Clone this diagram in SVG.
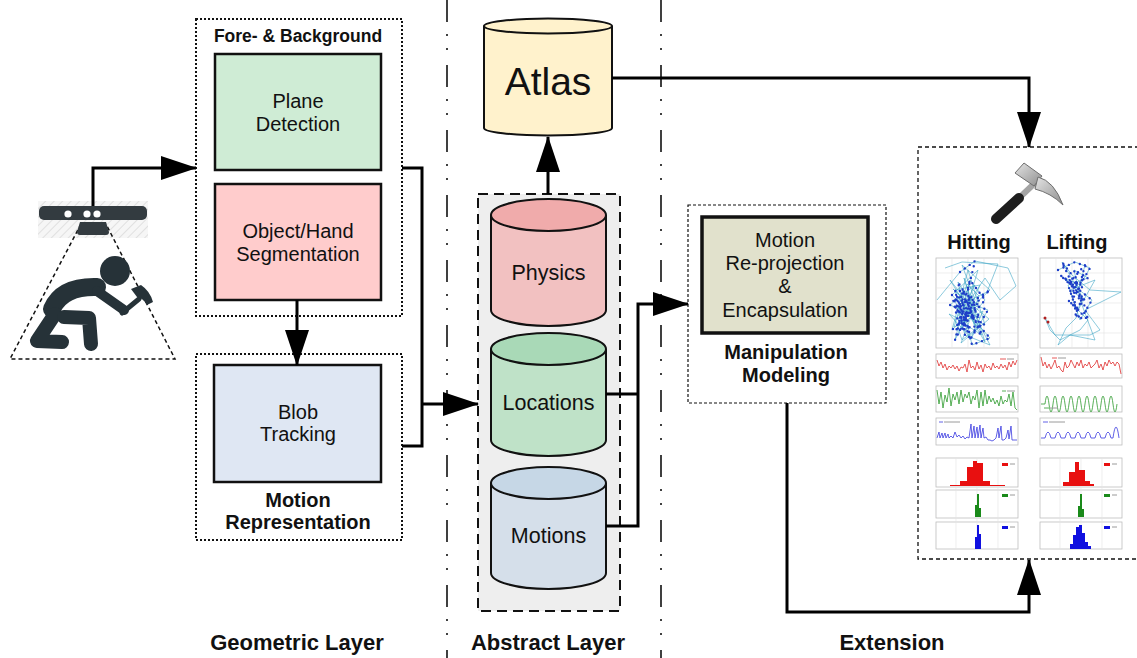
<svg xmlns="http://www.w3.org/2000/svg" width="1137" height="658" viewBox="0 0 1137 658">
  <style>
    text { font-family: "Liberation Sans", Arial, sans-serif; fill: #111; text-anchor: middle; }
    .lbl { font-size: 20px; }
    .bold { font-weight: bold; }
    .box { stroke: #111; stroke-width: 2.5; }
    .group-dotted { fill: none; stroke: #111; stroke-width: 2; stroke-dasharray: 2 2; }
    .cyl { stroke: #111; stroke-width: 2; }
    .conn { fill: none; stroke: #000; stroke-width: 3; }
    .layer-sep { stroke: #111; stroke-width: 1.6; stroke-dasharray: 22 12 2 12 2 15; }
    .frame { fill: #fff; stroke: #bdbdbd; stroke-width: 0.8; }
    .grid { stroke: #e2e2e2; stroke-width: 0.6; }
    .trail { fill: none; stroke: #3fa6c6; stroke-width: 0.6; }
    .pts { fill: none; stroke: #1e3ec8; stroke-width: 2.4; stroke-linecap: round; stroke-dasharray: 0 6; }
    .person { fill: none; stroke: #263238; stroke-linecap: round; stroke-linejoin: round; }
  </style>
  <defs>
    <marker id="ah" markerUnits="userSpaceOnUse" markerWidth="36" markerHeight="24" refX="35" refY="12" orient="auto">
      <path d="M0,0 L36,12 L0,24 Z" fill="#000"/>
    </marker>
    <pattern id="hatch" width="6" height="6" patternUnits="userSpaceOnUse" patternTransform="rotate(45)">
      <rect width="6" height="6" fill="#f6f6f6"/>
      <line x1="0" y1="0" x2="0" y2="6" stroke="#e0e0e0" stroke-width="2"/>
    </pattern>
    <linearGradient id="steel" x1="0" y1="0" x2="1" y2="1">
      <stop offset="0" stop-color="#e4e4e4"/>
      <stop offset="1" stop-color="#8e8e8e"/>
    </linearGradient>
  </defs>

  <rect width="1137" height="658" fill="#fff"/>

  <!-- layer separators -->
  <line class="layer-sep" x1="447" y1="0" x2="447" y2="658"/>
  <line class="layer-sep" x1="661" y1="0" x2="661" y2="658"/>

  <!-- sensor and worker -->
  <g id="sensor">
    <rect x="38" y="201" width="110" height="37" fill="url(#hatch)"/>
    <polyline points="81,224 10,359 175,359 106,224" fill="none" stroke="#111" stroke-width="1.5" stroke-dasharray="4 3"/>
    <path d="M80,222 H106 L109,232 Q109,235 106,235 H80 Q77,235 77,232 Z" fill="#333b40"/>
    <rect x="39" y="206" width="108" height="14" rx="5" fill="#333b40"/>
    <circle cx="68" cy="214" r="3.6" fill="#fff"/>
    <circle cx="87" cy="214" r="3.6" fill="#fff"/>
    <circle cx="97" cy="214" r="3.6" fill="#fff"/>
  </g>
  <g id="worker">
    <circle cx="115" cy="271" r="15" fill="#263238"/>
    <path class="person" d="M52,309 Q62,286 97,287" stroke-width="18"/>
    <path class="person" d="M97,291 L124,310" stroke-width="10"/>
    <path class="person" d="M55,314 L37,341 L62,342" stroke-width="14"/>
    <path class="person" d="M64,317 L89,318 L91,344" stroke-width="14"/>
    <path d="M122,313 L139,299" stroke="#263238" stroke-width="5" stroke-linecap="round"/>
    <path d="M131,289 L141,285 Q150,291 153,302 L147,305 Q143,298 137,297 Z" fill="#263238"/>
  </g>

  <!-- geometric layer -->
  <g id="fore-background">
    <rect class="group-dotted" x="196" y="19" width="206" height="297"/>
    <text class="bold" x="298" y="42" font-size="17.5">Fore- &amp; Background</text>
  </g>
  <g id="plane-detection">
    <rect class="box" x="215" y="54" width="166" height="116" fill="#cfecd5"/>
    <text class="lbl" x="298" y="108">Plane</text>
    <text class="lbl" x="298" y="131">Detection</text>
  </g>
  <g id="segmentation">
    <rect class="box" x="215" y="184" width="166" height="116" fill="#ffcccc"/>
    <text class="lbl" x="298" y="238">Object/Hand</text>
    <text class="lbl" x="298" y="261">Segmentation</text>
  </g>
  <g id="motion-representation">
    <rect class="group-dotted" x="196" y="354" width="206" height="186"/>
    <text class="bold" x="298" y="507" font-size="20">Motion</text>
    <text class="bold" x="298" y="529" font-size="20">Representation</text>
  </g>
  <g id="blob-tracking">
    <rect class="box" x="214" y="365" width="167" height="117" fill="#dfe7f3"/>
    <text class="lbl" x="298" y="419">Blob</text>
    <text class="lbl" x="298" y="441">Tracking</text>
  </g>

  <!-- abstract layer -->
  <g id="atlas">
    <path class="cyl" d="M484,26 V128 A64,7.5 0 0 0 612,128 V26" fill="#fff2cc" stroke-width="3"/>
    <ellipse class="cyl" cx="548" cy="26" rx="64" ry="7.5" fill="#fff2cc" stroke-width="3"/>
    <text x="548" y="95" font-size="39">Atlas</text>
  </g>
  <g id="abstract-store">
    <rect x="478" y="194" width="142" height="417" fill="#eeeeee" stroke="#111" stroke-width="2" stroke-dasharray="10 6"/>
  </g>
  <g id="physics">
    <path class="cyl" d="M491,215 V310 A57.5,16 0 0 0 606,310 V215" fill="#f2c1c1"/>
    <ellipse class="cyl" cx="548.5" cy="215" rx="57.5" ry="16" fill="#f0abab"/>
    <text x="548.5" y="280" font-size="21.5">Physics</text>
  </g>
  <g id="locations">
    <path class="cyl" d="M491,349 V440 A57.5,16 0 0 0 606,440 V349" fill="#bfe2c8"/>
    <ellipse class="cyl" cx="548.5" cy="349" rx="57.5" ry="16" fill="#a9d9b7"/>
    <text x="548.5" y="410" font-size="21.5">Locations</text>
  </g>
  <g id="motions">
    <path class="cyl" d="M491,483 V573 A57.5,16 0 0 0 606,573 V483" fill="#d5dfea"/>
    <ellipse class="cyl" cx="548.5" cy="483" rx="57.5" ry="16" fill="#c6d7e6"/>
    <text x="548.5" y="543" font-size="21.5">Motions</text>
  </g>

  <!-- manipulation modeling -->
  <g id="manipulation-modeling">
    <rect x="688" y="205" width="198" height="198" fill="none" stroke="#111" stroke-width="1.2" stroke-dasharray="3 2"/>
    <text class="bold" x="786" y="359" font-size="20">Manipulation</text>
    <text class="bold" x="786" y="382" font-size="20">Modeling</text>
  </g>
  <g id="reprojection">
    <rect x="702" y="217" width="166" height="116" fill="#e1e1cc" stroke="#111" stroke-width="3.5"/>
    <text class="lbl" x="785" y="247">Motion</text>
    <text class="lbl" x="785" y="270">Re-projection</text>
    <text class="lbl" x="785" y="293">&amp;</text>
    <text class="lbl" x="785" y="317">Encapsulation</text>
  </g>

  <!-- extension: motion profiles -->
  <g id="extension">
    <rect x="918" y="147" width="225" height="412" fill="#fff" stroke="#111" stroke-width="1.3" stroke-dasharray="4 3"/>
    <!-- hammer -->
    <line x1="1017" y1="200" x2="1038" y2="180" stroke="#a4a4a4" stroke-width="6"/>
    <line x1="996" y1="219" x2="1019" y2="198" stroke="#1e1e1e" stroke-width="10" stroke-linecap="round"/>
    <path d="M1015,173 L1024,163 L1042,176 L1034,186 Z" fill="url(#steel)" stroke="#6e6e6e" stroke-width="1"/>
    <path d="M1038,177 Q1054,181 1063,205 Q1051,193 1035,189 Z" fill="url(#steel)" stroke="#6e6e6e" stroke-width="1"/>
    <text class="bold" x="979" y="249" font-size="20">Hitting</text>
    <text class="bold" x="1077" y="249" font-size="20">Lifting</text>

    <!-- trajectory plots -->
    <rect class="frame" x="936" y="258" width="82" height="90"/>
    <rect class="frame" x="1040" y="258" width="82" height="90"/>
    <path class="grid" d="M936,273 H1018 M936,288 H1018 M936,303 H1018 M936,318 H1018 M936,333 H1018 M952,258 V348 M968,258 V348 M984,258 V348 M1000,258 V348 M1040,273 H1122 M1040,288 H1122 M1040,303 H1122 M1040,318 H1122 M1040,333 H1122 M1056,258 V348 M1072,258 V348 M1088,258 V348 M1104,258 V348"/>
    <polyline class="trail" points="937,300 960,272 975,261 1008,268 1016,286 1000,300 985,278 970,300 955,320 962,340 975,330 968,290 950,305 980,318 958,282 972,345 990,338 965,310 952,295 978,270 960,330 985,300 970,280 955,340 975,300 962,265 990,290 958,320 982,335 966,300 950,280 975,320 960,300 988,310 970,340 955,290 980,285 963,325 972,295 957,310 985,325 968,270 952,330 978,305 962,290 990,345 965,335 955,300 975,285 960,315"/>
    <polyline class="trail" points="945,268 962,262 998,264 987,292 958,306 966,322 949,314 971,338 983,311 954,327 967,284 979,296 961,343 989,319 953,289 973,309 964,278 985,342 959,298 976,326 968,306"/>
    <polyline class="pts" points="960,272 975,261 968,290 950,305 980,318 958,282 972,345 990,338 965,310 952,295 960,330 985,300 970,280 955,340 975,300 990,290 958,320 982,335 966,300 975,320 960,300 988,310 970,340 955,290 963,325 972,295 957,310 985,325 952,330 978,305 962,290 965,335 955,300 960,315"/>
    <polyline class="trail" points="1058,270 1075,262 1090,268 1080,285 1065,278 1085,300 1070,290 1095,280 1078,310 1068,300 1088,320 1080,330 1060,340 1050,330 1045,318 1055,335 1090,335 1100,330 1085,310 1121,292 1090,290 1072,275 1062,262 1082,296 1076,318 1066,328 1058,345 1070,335 1095,340 1082,305 1074,270 1088,278 1068,285 1080,320 1092,300 1060,275 1078,292 1085,265"/>
    <polyline class="pts" points="1058,270 1075,262 1090,268 1080,285 1065,278 1085,300 1070,290 1078,310 1068,300 1088,320 1082,296 1076,318 1072,275 1062,262 1082,305 1074,270 1088,278 1068,285 1080,320 1092,300 1060,275 1078,292 1085,265 1070,282 1084,288"/>
    <circle cx="1045" cy="318" r="1.5" fill="#b02020"/>
    <circle cx="1048" cy="322" r="1.5" fill="#b02020"/>

    <!-- time series -->
    <rect class="frame" x="936" y="354" width="82" height="24"/>
    <rect class="frame" x="936" y="386" width="82" height="26"/>
    <rect class="frame" x="936" y="418" width="82" height="27"/>
    <rect class="frame" x="1040" y="354" width="82" height="24"/>
    <rect class="frame" x="1040" y="386" width="82" height="26"/>
    <rect class="frame" x="1040" y="418" width="82" height="27"/>
    <polyline fill="none" stroke="#e03030" stroke-width="0.8" points="937,360 939,366 941,362 943,368 945,364 947,370 949,366 951,368 953,365 955,369 957,366 959,371 961,367 963,368 965,364 967,372 969,360 971,368 973,366 975,370 977,362 979,369 981,365 983,372 985,364 987,368 989,366 991,370 993,363 995,368 997,366 999,369 1001,364 1003,368 1005,365 1007,370 1009,362 1011,367 1013,361 1015,365 1017,360"/>
    <polyline fill="none" stroke="#2e9a2e" stroke-width="0.8" points="937,390 939,404 941,392 943,408 945,395 947,402 949,388 951,406 953,394 955,400 957,392 959,404 961,390 963,402 965,394 967,398 969,392 971,404 973,396 975,400 977,390 979,408 981,392 983,406 985,390 987,404 989,396 991,402 993,398 995,404 997,400 999,406 1001,396 1003,404 1005,400 1007,402 1009,394 1011,406 1013,392 1015,408 1017,410"/>
    <polyline fill="none" stroke="#3a3ae0" stroke-width="0.8" points="937,438 939,432 940,438 942,433 943,438 945,433 946,438 948,434 949,438 951,436 953,438 955,432 957,437 959,435 961,438 963,436 965,439 967,437 969,438 971,424 972,438 974,426 975,438 977,427 978,438 980,425 981,438 983,428 984,438 986,437 988,440 990,440 992,441 994,440 996,438 998,428 999,438 1001,426 1002,440 1004,440 1006,438 1008,430 1009,439 1011,426 1012,440 1014,440 1017,440"/>
    <polyline fill="none" stroke="#e03030" stroke-width="0.8" points="1041,357 1043,366 1045,362 1047,368 1049,364 1051,369 1053,365 1055,360 1057,368 1059,366 1061,370 1063,372 1065,362 1067,368 1069,366 1071,360 1073,364 1075,368 1077,362 1079,366 1081,360 1083,368 1085,364 1087,366 1089,362 1091,368 1093,366 1095,364 1097,360 1099,368 1101,364 1103,370 1105,362 1107,366 1109,360 1111,364 1113,362 1115,366 1117,362 1119,364 1121,374"/>
    <path fill="none" stroke="#2e9a2e" stroke-width="0.8" d="M1041,404 H1045 q2,-16 4,0 t4,0 t4,0 t4,0 t4,0 t4,0 t4,0 t4,0 t4,0 t4,0 t4,0 t4,0 t4,0 t4,0 t4,0 t4,0 t4,0 t4,0"/>
    <path fill="none" stroke="#3a3ae0" stroke-width="0.8" d="M1041,438 h4 q3,-12 6,0 h4 q3,-12 6,0 h4 q3,-12 6,0 h4 q3,-12 6,0 h4 q3,-12 6,0 h4 q3,-12 6,0 h4 q3,-12 6,0 h2 q3,-22 6,0"/>
    <path stroke="#e03030" stroke-width="0.8" d="M1000,359 h6 M1052,358 h5"/>
    <path stroke="#2e9a2e" stroke-width="0.8" d="M1002,391 h4 M1044,408 h5"/>
    <path stroke="#3a3ae0" stroke-width="0.8" d="M939,422 h4 M1043,422 h5"/>
    <path stroke="#9a9a9a" stroke-width="1" d="M1007,359 h7 M1007,391 h8 M944,422 h16 M1058,358 h8 M1050,408 h8 M1049,422 h16"/>

    <!-- histograms -->
    <rect class="frame" x="936" y="458" width="82" height="29"/>
    <rect class="frame" x="936" y="490" width="82" height="28"/>
    <rect class="frame" x="936" y="522" width="82" height="27"/>
    <rect class="frame" x="1040" y="458" width="82" height="29"/>
    <rect class="frame" x="1040" y="490" width="82" height="28"/>
    <rect class="frame" x="1040" y="522" width="82" height="27"/>
    <path class="grid" d="M956,458 V549 M977,458 V549 M998,458 V549 M1060,458 V549 M1081,458 V549 M1102,458 V549"/>
    <g fill="#e81010">
      <rect x="950" y="485" width="55" height="1"/>
      <rect x="960" y="481" width="7" height="5"/>
      <rect x="967" y="467" width="6" height="19"/>
      <rect x="973" y="461" width="4" height="25"/>
      <rect x="977" y="463" width="6" height="23"/>
      <rect x="983" y="481" width="7" height="5"/>
      <rect x="1063" y="482" width="6" height="4"/>
      <rect x="1069" y="472" width="6" height="14"/>
      <rect x="1075" y="462" width="4" height="24"/>
      <rect x="1079" y="470" width="6" height="16"/>
      <rect x="1085" y="481" width="5" height="5"/>
      <rect x="1090" y="484" width="4" height="2"/>
      <rect x="1002" y="463" width="6" height="3"/>
      <rect x="1104" y="463" width="6" height="3"/>
    </g>
    <g fill="#1a8a1a">
      <rect x="975" y="505" width="2" height="12"/>
      <rect x="977" y="494" width="2" height="23"/>
      <rect x="979" y="508" width="2" height="9"/>
      <rect x="1078" y="506" width="2" height="11"/>
      <rect x="1080" y="494" width="2" height="23"/>
      <rect x="1082" y="509" width="2" height="8"/>
      <rect x="1002" y="494" width="6" height="3"/>
      <rect x="1104" y="494" width="6" height="3"/>
    </g>
    <g fill="#1010e0">
      <rect x="975" y="537" width="2" height="12"/>
      <rect x="977" y="525" width="2" height="24"/>
      <rect x="979" y="534" width="2" height="15"/>
      <rect x="1070" y="544" width="3" height="5"/>
      <rect x="1073" y="535" width="3" height="14"/>
      <rect x="1076" y="527" width="3" height="22"/>
      <rect x="1079" y="525" width="3" height="24"/>
      <rect x="1082" y="533" width="3" height="16"/>
      <rect x="1085" y="542" width="3" height="7"/>
      <rect x="1088" y="546" width="3" height="3"/>
      <rect x="1002" y="526" width="6" height="3"/>
      <rect x="1104" y="526" width="6" height="3"/>
    </g>
    <path stroke="#9a9a9a" stroke-width="1" d="M1010,464 h5 M1010,495 h5 M1010,527 h5 M1112,464 h5 M1112,495 h5 M1112,527 h5"/>
  </g>

  <!-- connectors -->
  <g id="connectors">
    <path class="conn" d="M93,206 V168 H196" stroke-width="2.5" marker-end="url(#ah)"/>
    <path class="conn" d="M297,300 V365" marker-end="url(#ah)"/>
    <path class="conn" d="M402,168 H422 V446 H402"/>
    <path class="conn" d="M422,404 H478" marker-end="url(#ah)"/>
    <path class="conn" d="M548,194 V137" marker-end="url(#ah)"/>
    <path class="conn" d="M612,78 H1029 V147" marker-end="url(#ah)"/>
    <path class="conn" d="M606,394 H638"/>
    <path class="conn" d="M606,526 H638 V304 H688" marker-end="url(#ah)"/>
    <path class="conn" d="M787,403 V612 H1029 V560" marker-end="url(#ah)"/>
  </g>

  <!-- layer captions -->
  <text class="bold" x="297" y="650" font-size="22">Geometric Layer</text>
  <text class="bold" x="548" y="650" font-size="22">Abstract Layer</text>
  <text class="bold" x="892" y="650" font-size="22">Extension</text>
</svg>
